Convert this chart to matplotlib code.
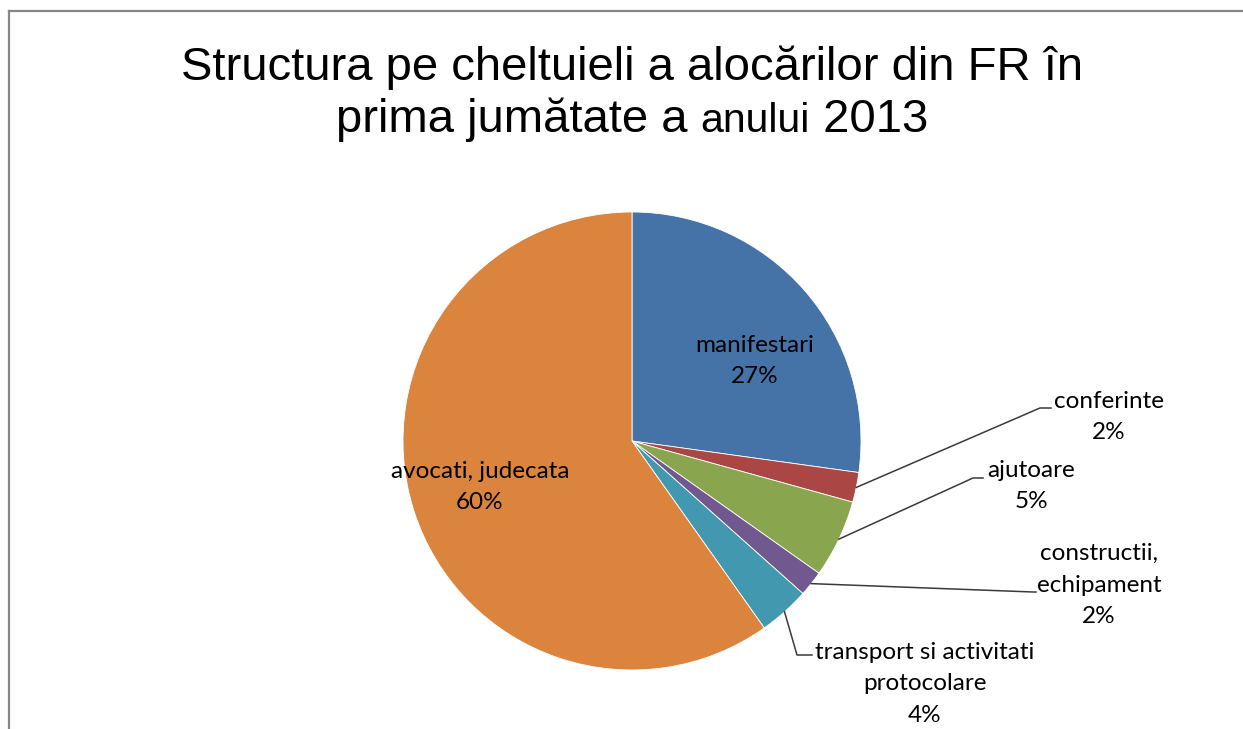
import numpy as np
import matplotlib
matplotlib.use("Agg")
import matplotlib.pyplot as plt
from matplotlib.lines import Line2D

categories = ["manifestari", "conferinte", "ajutoare", "constructii,\nechipament",
              "transport si activitati\nprotocolare", "avocati, judecata"]
values = [27.2, 2.1, 5.5, 1.8, 3.6, 59.8]
pct_labels = ["27%", "2%", "5%", "2%", "4%", "60%"]
colors = ["#4572A7", "#AA4643", "#89A54E", "#71588F", "#4198AF", "#DB843D"]

W, H = 1243, 729
fig = plt.figure(figsize=(W / 100, H / 100), dpi=100)
ax = fig.add_axes([0, 0, 1, 1])

cx, cy, R = 632, H - 441, 229
wedges, _ = ax.pie(values, colors=colors, startangle=90, counterclock=False,
                   center=(cx, cy), radius=R, frame=True,
                   wedgeprops=dict(edgecolor="white", linewidth=0.6))
ax.set_xlim(0, W)
ax.set_ylim(0, H)
ax.set_aspect("equal")
ax.axis("off")

lab_font = dict(family=["Lato", "DejaVu Sans"], fontsize=17.5, color="#000000")
LS = 1.62

def mid_angle(w):
    return np.deg2rad((w.theta1 + w.theta2) / 2)

# inside labels (index, text center)
inside = [(0, (755, H - 361)), (5, (480, H - 487))]
for i, tc in inside:
    ax.text(tc[0], tc[1], f"{categories[i]}\n{pct_labels[i]}", ha="center", va="center",
            linespacing=LS, **lab_font)

# outside labels: (index, elbow point, end point, text center)
outside = [
    (1, (1040, H - 408), (1051, H - 408), (1109, H - 417)),
    (2, (973, H - 478), (983, H - 478), (1031, H - 486)),
    (3, (1033, H - 592), (1036, H - 592), (1099, H - 585)),
    (4, (797, H - 655), (812, H - 655), (925, H - 684)),
]
for i, elbow, end, tc in outside:
    a = mid_angle(wedges[i])
    sx, sy = cx + R * np.cos(a), cy + R * np.sin(a)
    ax.add_line(Line2D([sx, elbow[0], end[0]], [sy, elbow[1], end[1]],
                       color="#3a3a3a", linewidth=1.1))
    ax.text(tc[0], tc[1], f"{categories[i]}\n{pct_labels[i]}", ha="center",
            va="center", linespacing=LS, **lab_font)

# title
tfont = dict(family="Liberation Sans", color="#000000")
ax.text(632, H - 80, "Structura pe cheltuieli a alocărilor din FR în",
        ha="center", va="baseline", fontsize=34, **tfont)

parts = [("prima jumătate a ", 34), ("anului", 29.5), (" 2013", 34)]
fig.canvas.draw()
r = fig.canvas.get_renderer()
texts = []
widths = []
for s, fs in parts:
    t = ax.text(0, H - 132, s, ha="left", va="baseline", fontsize=fs, **tfont)
    bb = t.get_window_extent(renderer=r)
    texts.append(t)
    widths.append(bb.width)
total = sum(widths)
x0 = 632 - total / 2
for t, w in zip(texts, widths):
    t.set_x(x0)
    x0 += w

# frame (left and top edges visible)
fig.add_artist(Line2D([9 / W, 9 / W], [0, 1 - 11 / H], transform=fig.transFigure,
                      color="#868686", linewidth=1.6))
fig.add_artist(Line2D([9 / W, 1], [1 - 11 / H, 1 - 11 / H], transform=fig.transFigure,
                      color="#868686", linewidth=1.6))

fig.savefig("out.png", dpi=100, facecolor="white")
